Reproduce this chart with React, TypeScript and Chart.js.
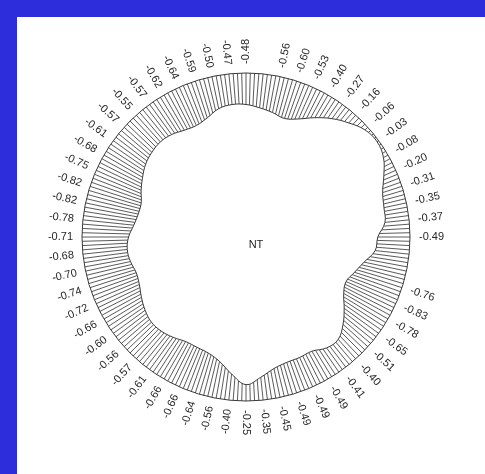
import React, { useEffect, useRef } from "react";
import { Chart, registerables } from "chart.js";

Chart.register(...registerables);

// 60 radial positions, clockwise from the top; "" = position without a printed label
const positionLabels: string[] = [
  "-0.48", "", "-0.56", "-0.60", "-0.53", "-0.40", "-0.27", "-0.16", "-0.06", "-0.03",
  "-0.08", "-0.20", "-0.31", "-0.35", "-0.37", "-0.49", "", "", "-0.76", "-0.83",
  "-0.78", "-0.65", "-0.51", "-0.40", "-0.41", "-0.49", "-0.49", "-0.49", "-0.45", "-0.35",
  "-0.25", "-0.40", "-0.56", "-0.64", "-0.66", "-0.66", "-0.61", "-0.57", "-0.56", "-0.60",
  "-0.66", "-0.72", "-0.74", "-0.70", "-0.68", "-0.71", "-0.78", "-0.82", "-0.82", "-0.75",
  "-0.68", "-0.61", "-0.57", "-0.55", "-0.57", "-0.62", "-0.64", "-0.59", "-0.50", "-0.47",
];

// profile values (band thickness from the outer circle)
const profileValues: number[] = [
  -0.48, -0.52, -0.56, -0.6, -0.53, -0.4, -0.27, -0.16, -0.06, -0.03,
  -0.08, -0.2, -0.31, -0.35, -0.37, -0.49, -0.52, -0.66, -0.76, -0.83,
  -0.78, -0.65, -0.51, -0.4, -0.41, -0.49, -0.49, -0.49, -0.45, -0.35,
  -0.25, -0.4, -0.56, -0.64, -0.66, -0.66, -0.61, -0.57, -0.56, -0.6,
  -0.66, -0.72, -0.74, -0.7, -0.68, -0.71, -0.78, -0.82, -0.82, -0.75,
  -0.68, -0.61, -0.57, -0.55, -0.57, -0.62, -0.64, -0.59, -0.5, -0.47,
];

const centerText = "NT";
const scaleMin = -2.5;
const scaleMax = 0;

const INK = "#3a3a3a";
const FONT = '11px "Liberation Sans", Arial, sans-serif';

const hatchPlugin = {
  id: "hatch",
  beforeDatasetsDraw(chart: any) {
    const scale = chart.scales.r;
    const ctx = chart.ctx;
    const R = scale.drawingArea;
    ctx.save();
    ctx.strokeStyle = "#474747";
    ctx.lineWidth = 0.9;
    const n = 240;
    for (let k = 0; k < n; k++) {
      const a = (k / n) * Math.PI * 2;
      ctx.beginPath();
      ctx.moveTo(scale.xCenter, scale.yCenter);
      ctx.lineTo(scale.xCenter + Math.cos(a) * R, scale.yCenter + Math.sin(a) * R);
      ctx.stroke();
    }
    ctx.restore();
  },
  afterDatasetsDraw(chart: any) {
    const scale = chart.scales.r;
    const ctx = chart.ctx;
    const R = scale.drawingArea;
    ctx.save();
    // outer circle
    ctx.strokeStyle = INK;
    ctx.lineWidth = 1;
    ctx.beginPath();
    ctx.arc(scale.xCenter, scale.yCenter, R, 0, Math.PI * 2);
    ctx.stroke();
    // rotated labels
    ctx.fillStyle = "#262626";
    ctx.font = FONT;
    ctx.textBaseline = "middle";
    positionLabels.forEach((lab, i) => {
      if (!lab) return;
      const ang = scale.getIndexAngle(i) - Math.PI / 2;
      const p = scale.getPointPosition(i, R + 9);
      ctx.save();
      ctx.translate(p.x, p.y);
      if (Math.cos(ang) >= 0) {
        ctx.rotate(ang);
        ctx.textAlign = "left";
      } else {
        ctx.rotate(ang + Math.PI);
        ctx.textAlign = "right";
      }
      ctx.fillText(lab, 0, 0);
      ctx.restore();
    });
    // center text
    ctx.textAlign = "center";
    ctx.fillText(centerText, scale.xCenter + 10, scale.yCenter + 8);
    ctx.restore();
  },
};

export default function App() {
  const ref = useRef<HTMLCanvasElement>(null);
  useEffect(() => {
    if (!ref.current) return;
    const chart = new Chart(ref.current, {
      type: "radar",
      data: {
        labels: positionLabels,
        datasets: [
          {
            data: profileValues,
            borderColor: INK,
            borderWidth: 1,
            backgroundColor: "#ffffff",
            fill: "start",
            pointRadius: 0,
            tension: 0.4,
          },
        ],
      },
      options: {
        responsive: false,
        animation: false,
        layout: { padding: { left: 82, top: 73, right: 75, bottom: 73 } },
        plugins: { legend: { display: false }, tooltip: { enabled: false } },
        scales: {
          r: {
            min: scaleMin,
            max: scaleMax,
            startAngle: 0,
            ticks: { display: false },
            grid: { display: false },
            angleLines: { display: false },
            pointLabels: { display: false },
          },
        },
      },
      plugins: [hatchPlugin],
    });
    return () => chart.destroy();
  }, []);

  return (
    <div style={{ position: "fixed", left: 0, top: 0, width: 485, height: 474, background: "#2d2ddc" }}>
      <div style={{ position: "absolute", left: 17, top: 17, right: 0, bottom: 0, background: "#ffffff" }} />
      <canvas
        ref={ref}
        width={485}
        height={474}
        style={{ position: "absolute", left: 0, top: 0, width: 485, height: 474 }}
      />
    </div>
  );
}
